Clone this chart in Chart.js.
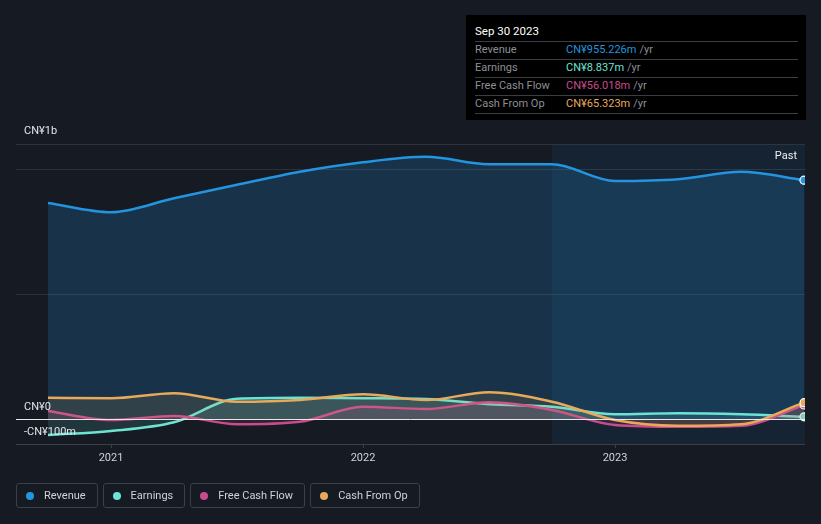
<!DOCTYPE html>
<html>
<head>
<meta charset="utf-8">
<script src="https://cdn.jsdelivr.net/npm/chart.js@4.4.1/dist/chart.umd.min.js"></script>
<style>
  html, body { margin: 0; padding: 0; background: #151a23; }
  body { width: 821px; height: 524px; position: relative; overflow: hidden; font-family: 'Roboto', 'Noto Sans', sans-serif; }
  #chart { position: absolute; left: 0; top: 0; }
  #tip {
    position: absolute; left: 466px; top: 15px; width: 340px; height: 105px;
    background: #000; box-sizing: border-box; padding: 9px 8px 0 9px;
  }
  #tip .title { color: #fff; font-size: 11.5px; font-weight: 400; height: 17px; line-height: 14px; border-bottom: 1px solid #3a3d44; }
  #tip .row { height: 17px; line-height: 16px; font-size: 11px; border-bottom: 1px solid #3a3d44; display: flex; }
  #tip .row .k { color: #8c8f96; width: 91px; }
  #tip .row .u { color: #8c8f96; margin-left: 3px; }
  #legend { position: absolute; left: 16px; top: 483px; display: flex; gap: 5px; }
  #legend .item {
    height: 25px; box-sizing: border-box; border: 1px solid #3a3f48; border-radius: 3px;
    display: flex; align-items: center; padding: 0 11px 0 9px; color: #d0d3d8; font-size: 11px;
  }
  #legend .dot { width: 8px; height: 8px; border-radius: 50%; margin-right: 10px; }
</style>
</head>
<body>
<canvas id="chart" width="821" height="524"></canvas>
<div id="tip"></div>
<div id="legend"></div>
<script>
// Quarter ends, Sep 2020 .. Sep 2023 (decimal years)
const QUARTERS = [2020.75, 2021.0, 2021.25, 2021.5, 2021.75, 2022.0, 2022.25, 2022.5, 2022.75, 2023.0, 2023.25, 2023.5, 2023.75];
// values in CN¥ millions, trailing twelve months
const REVENUE = [864, 827, 883, 937, 989, 1027, 1049, 1019, 1019, 952, 959, 989, 955.226];
const EARNINGS = [-64, -48, -13, 81, 85, 83, 80, 59, 49, 19, 23, 19, 8.837];
const FREE_CASH_FLOW = [32, -4, 12, -21, -11, 49, 40, 67, 36, -24, -31, -27, 56.018];
const CASH_FROM_OP = [85, 83, 103, 69, 76, 99, 76, 107, 69, -4, -27, -21, 65.323];

const SERIES_NAMES = ['Revenue', 'Earnings', 'Free Cash Flow', 'Cash From Op'];
const SERIES_COLORS = ['#2394df', '#6de3d3', '#c94b8c', '#e8a95a'];
const SERIES_FILLS = ['rgba(35,148,223,0.20)', 'rgba(109,227,211,0.14)', 'rgba(201,75,140,0.14)', 'rgba(232,169,90,0.12)'];
const SERIES_DATA = [REVENUE, EARNINGS, FREE_CASH_FLOW, CASH_FROM_OP];

const Y_TICKS = [1000, 0, -100];
const Y_TICK_LABELS = ['CN¥1b', 'CN¥0', '-CN¥100m'];
const GRID_LINES = [1000, 500];
const YEAR_TICKS = [2021, 2022, 2023];
const TIP_TITLE = 'Sep 30 2023';
const PAST_START = 2022.75;

const FONT = "'Roboto', 'Noto Sans', sans-serif";

// backdrop, grid and axis labels drawn off the chart's own scales
const decor = {
  id: 'decor',
  beforeDatasetsDraw(chart) {
    const { ctx, chartArea: a, scales: { x, y } } = chart;
    ctx.save();
    const px = x.getPixelForValue(PAST_START);
    ctx.fillStyle = 'rgba(30,105,165,0.12)';
    ctx.fillRect(px, a.top, a.right - px, a.bottom - a.top);

    ctx.lineWidth = 1;
    ctx.strokeStyle = '#2e333c';
    ctx.beginPath(); ctx.moveTo(a.left, a.top + 0.5); ctx.lineTo(a.right, a.top + 0.5); ctx.stroke();
    ctx.strokeStyle = 'rgba(255,255,255,0.10)';
    GRID_LINES.forEach(v => {
      const py = Math.round(y.getPixelForValue(v)) + 0.5;
      ctx.beginPath(); ctx.moveTo(a.left, py); ctx.lineTo(a.right, py); ctx.stroke();
    });
    ctx.strokeStyle = '#3a3f48';
    ctx.beginPath(); ctx.moveTo(a.left, a.bottom + 0.5); ctx.lineTo(a.right, a.bottom + 0.5); ctx.stroke();
    YEAR_TICKS.forEach(t => {
      const tx = Math.round(x.getPixelForValue(t)) + 0.5;
      ctx.beginPath(); ctx.moveTo(tx, a.bottom); ctx.lineTo(tx, a.bottom + 4); ctx.stroke();
    });
    ctx.restore();
  },
  afterDatasetsDraw(chart) {
    const { ctx, chartArea: a, scales: { x, y } } = chart;
    ctx.save();
    const zy = Math.round(y.getPixelForValue(0)) + 0.5;
    ctx.strokeStyle = '#e8e8e8';
    ctx.lineWidth = 1;
    ctx.beginPath(); ctx.moveTo(a.left, zy); ctx.lineTo(a.right, zy); ctx.stroke();

    ctx.font = '11px ' + FONT;
    ctx.fillStyle = '#e2e4e8';
    ctx.textBaseline = 'middle';
    ctx.textAlign = 'left';
    Y_TICKS.forEach((v, i) => {
      const py = i === 0 ? a.top - 13 : y.getPixelForValue(v) - 12;
      ctx.fillText(Y_TICK_LABELS[i], 24, py);
    });
    ctx.textAlign = 'center';
    ctx.fillStyle = '#d0d3d8';
    YEAR_TICKS.forEach(t => ctx.fillText(String(t), x.getPixelForValue(t), a.bottom + 14));
    ctx.textAlign = 'right';
    ctx.fillStyle = '#f0f0f0';
    ctx.fillText('Past', a.right - 8, a.top + 12);
    ctx.restore();
  }
};

const lastIdx = QUARTERS.length - 1;
new Chart(document.getElementById('chart'), {
  type: 'line',
  data: {
    datasets: SERIES_DATA.map((vals, i) => ({
      label: SERIES_NAMES[i],
      data: vals.map((v, j) => ({ x: QUARTERS[j], y: v })),
      borderColor: SERIES_COLORS[i],
      backgroundColor: SERIES_FILLS[i],
      fill: 'origin',
      borderWidth: 2.5,
      cubicInterpolationMode: 'monotone',
      pointRadius: ctx => ctx.dataIndex === lastIdx ? 4 : 0,
      pointBackgroundColor: SERIES_COLORS[i],
      pointBorderColor: '#ffffff',
      pointBorderWidth: 1.2,
      order: 4 - i,
    })),
  },
  options: {
    responsive: false,
    animation: false,
    devicePixelRatio: 1,
    layout: { padding: { left: 16, right: 16, top: 144, bottom: 80 } },
    plugins: { legend: { display: false }, tooltip: { enabled: false } },
    scales: {
      x: { type: 'linear', min: 2020.623, max: 2023.754, display: false },
      y: { min: -100, max: 1100, display: false },
    },
  },
  plugins: [decor],
});

// hover box, filled from the last value of each series
const tip = document.getElementById('tip');
let html = '<div class="title">' + TIP_TITLE + '</div>';
SERIES_NAMES.forEach((name, i) => {
  const v = SERIES_DATA[i][lastIdx].toFixed(3);
  html += '<div class="row"><span class="k">' + name + '</span><span style="color:' + SERIES_COLORS[i] + '">CN¥' + v + 'm</span><span class="u">/yr</span></div>';
});
tip.innerHTML = html;

const legend = document.getElementById('legend');
SERIES_NAMES.forEach((name, i) => {
  legend.innerHTML += '<div class="item"><span class="dot" style="background:' + SERIES_COLORS[i] + '"></span>' + name + '</div>';
});
</script>
</body>
</html>
